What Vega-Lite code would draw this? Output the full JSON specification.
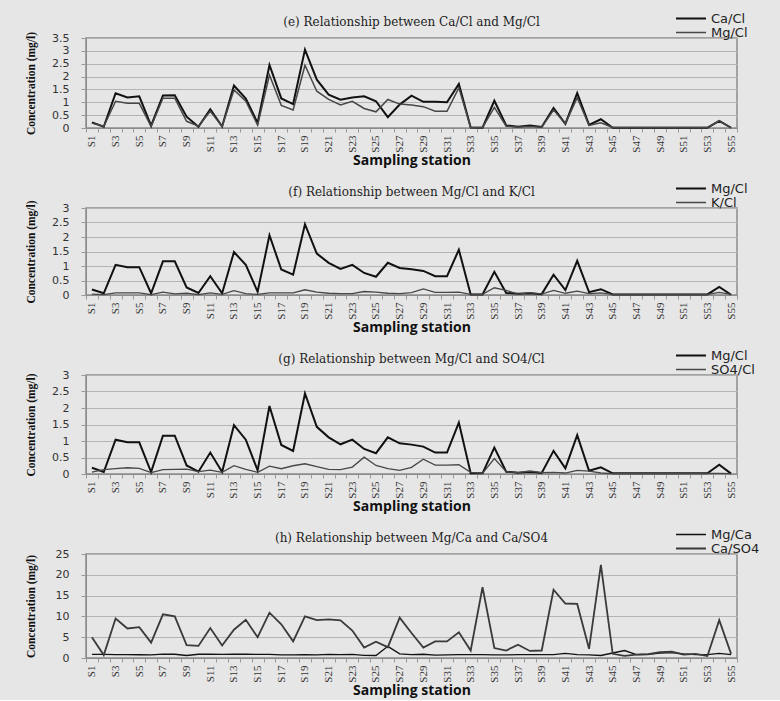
{
  "$schema": "https://vega.github.io/schema/vega-lite/v6.json",
  "background": "#e6e6e6",
  "padding": {"left": 24, "top": 11, "right": 20, "bottom": 2},
  "bounds": "flush",
  "spacing": 80,
  "config": {
    "view": {"stroke": "#8c8c8c", "strokeWidth": 1.5},
    "axis": {"domainColor": "#8c8c8c", "tickColor": "#9a9a9a", "gridColor": "#b4b4b4", "labelColor": "#333333", "titleColor": "#111111"},
    "axisX": {"grid": false, "tickBand": "extent", "tickSize": 4, "labelAngle": 270, "labelFont": "Liberation Sans Narrow", "labelFontSize": 11, "labelPadding": 3, "labelOverlap": false, "titleFont": "Open Sans", "titleFontWeight": "bold", "titleFontSize": 14, "titlePadding": 1},
    "axisY": {"grid": true, "tickSize": 5, "labelFont": "DejaVu Sans", "labelFontSize": 11, "labelPadding": 12, "format": "~g", "minExtent": 40, "maxExtent": 40, "titleFont": "Liberation Sans Narrow", "titleFontWeight": "bold", "titleFontSize": 11.5, "titlePadding": 10},
    "legend": {"orient": "none", "legendX": 589, "legendY": -26, "symbolType": "stroke", "symbolSize": 900, "symbolStrokeWidth": 1.5, "labelFont": "DejaVu Sans", "labelFontSize": 13, "labelColor": "#222222", "rowPadding": 0, "clipHeight": 13, "labelOffset": 4, "padding": 0},
    "title": {"font": "DejaVu Serif", "fontSize": 12, "fontWeight": "normal", "color": "#222222", "anchor": "middle", "frame": "group", "offset": -16.5}
  },
  "data": {"values": [
    {"station": "S1", "Ca/Cl": 0.22, "Mg/Cl": 0.19, "K/Cl": 0.03, "SO4/Cl": 0.06, "Mg/Ca": 0.85, "Ca/SO4": 5.0},
    {"station": "S2", "Ca/Cl": 0.05, "Mg/Cl": 0.06, "K/Cl": 0.01, "SO4/Cl": 0.13, "Mg/Ca": 0.85, "Ca/SO4": 0.7},
    {"station": "S3", "Ca/Cl": 1.35, "Mg/Cl": 1.04, "K/Cl": 0.07, "SO4/Cl": 0.16, "Mg/Ca": 0.8, "Ca/SO4": 9.5},
    {"station": "S4", "Ca/Cl": 1.19, "Mg/Cl": 0.96, "K/Cl": 0.07, "SO4/Cl": 0.19, "Mg/Ca": 0.8, "Ca/SO4": 7.1},
    {"station": "S5", "Ca/Cl": 1.23, "Mg/Cl": 0.96, "K/Cl": 0.07, "SO4/Cl": 0.17, "Mg/Ca": 0.78, "Ca/SO4": 7.4},
    {"station": "S6", "Ca/Cl": 0.09, "Mg/Cl": 0.06, "K/Cl": 0.01, "SO4/Cl": 0.04, "Mg/Ca": 0.75, "Ca/SO4": 3.7},
    {"station": "S7", "Ca/Cl": 1.26, "Mg/Cl": 1.16, "K/Cl": 0.10, "SO4/Cl": 0.13, "Mg/Ca": 0.92, "Ca/SO4": 10.5},
    {"station": "S8", "Ca/Cl": 1.27, "Mg/Cl": 1.16, "K/Cl": 0.04, "SO4/Cl": 0.14, "Mg/Ca": 0.9, "Ca/SO4": 10.0},
    {"station": "S9", "Ca/Cl": 0.44, "Mg/Cl": 0.26, "K/Cl": 0.06, "SO4/Cl": 0.15, "Mg/Ca": 0.6, "Ca/SO4": 3.1},
    {"station": "S10", "Ca/Cl": 0.05, "Mg/Cl": 0.07, "K/Cl": 0.01, "SO4/Cl": 0.07, "Mg/Ca": 0.9, "Ca/SO4": 2.9},
    {"station": "S11", "Ca/Cl": 0.73, "Mg/Cl": 0.65, "K/Cl": 0.07, "SO4/Cl": 0.12, "Mg/Ca": 0.9, "Ca/SO4": 7.2},
    {"station": "S12", "Ca/Cl": 0.06, "Mg/Cl": 0.06, "K/Cl": 0.02, "SO4/Cl": 0.05, "Mg/Ca": 0.85, "Ca/SO4": 3.0},
    {"station": "S13", "Ca/Cl": 1.65, "Mg/Cl": 1.48, "K/Cl": 0.15, "SO4/Cl": 0.25, "Mg/Ca": 0.9, "Ca/SO4": 6.8},
    {"station": "S14", "Ca/Cl": 1.14, "Mg/Cl": 1.04, "K/Cl": 0.05, "SO4/Cl": 0.14, "Mg/Ca": 0.9, "Ca/SO4": 9.2},
    {"station": "S15", "Ca/Cl": 0.20, "Mg/Cl": 0.11, "K/Cl": 0.02, "SO4/Cl": 0.05, "Mg/Ca": 0.85, "Ca/SO4": 5.0},
    {"station": "S16", "Ca/Cl": 2.45, "Mg/Cl": 2.06, "K/Cl": 0.07, "SO4/Cl": 0.24, "Mg/Ca": 0.85, "Ca/SO4": 10.9},
    {"station": "S17", "Ca/Cl": 1.15, "Mg/Cl": 0.88, "K/Cl": 0.07, "SO4/Cl": 0.16, "Mg/Ca": 0.77, "Ca/SO4": 8.1},
    {"station": "S18", "Ca/Cl": 0.93, "Mg/Cl": 0.70, "K/Cl": 0.07, "SO4/Cl": 0.25, "Mg/Ca": 0.75, "Ca/SO4": 4.0},
    {"station": "S19", "Ca/Cl": 3.05, "Mg/Cl": 2.44, "K/Cl": 0.18, "SO4/Cl": 0.31, "Mg/Ca": 0.8, "Ca/SO4": 10.0},
    {"station": "S20", "Ca/Cl": 1.88, "Mg/Cl": 1.43, "K/Cl": 0.10, "SO4/Cl": 0.22, "Mg/Ca": 0.77, "Ca/SO4": 9.1},
    {"station": "S21", "Ca/Cl": 1.30, "Mg/Cl": 1.11, "K/Cl": 0.06, "SO4/Cl": 0.14, "Mg/Ca": 0.85, "Ca/SO4": 9.3},
    {"station": "S22", "Ca/Cl": 1.10, "Mg/Cl": 0.90, "K/Cl": 0.05, "SO4/Cl": 0.13, "Mg/Ca": 0.82, "Ca/SO4": 9.05},
    {"station": "S23", "Ca/Cl": 1.19, "Mg/Cl": 1.04, "K/Cl": 0.05, "SO4/Cl": 0.21, "Mg/Ca": 0.87, "Ca/SO4": 6.6},
    {"station": "S24", "Ca/Cl": 1.23, "Mg/Cl": 0.76, "K/Cl": 0.12, "SO4/Cl": 0.51, "Mg/Ca": 0.62, "Ca/SO4": 2.5},
    {"station": "S25", "Ca/Cl": 1.04, "Mg/Cl": 0.63, "K/Cl": 0.10, "SO4/Cl": 0.26, "Mg/Ca": 0.6, "Ca/SO4": 3.9},
    {"station": "S26", "Ca/Cl": 0.42, "Mg/Cl": 1.11, "K/Cl": 0.06, "SO4/Cl": 0.16, "Mg/Ca": 2.8, "Ca/SO4": 2.6},
    {"station": "S27", "Ca/Cl": 0.91, "Mg/Cl": 0.93, "K/Cl": 0.05, "SO4/Cl": 0.11, "Mg/Ca": 1.0, "Ca/SO4": 9.7},
    {"station": "S28", "Ca/Cl": 1.26, "Mg/Cl": 0.89, "K/Cl": 0.08, "SO4/Cl": 0.20, "Mg/Ca": 0.8, "Ca/SO4": 6.0},
    {"station": "S29", "Ca/Cl": 1.02, "Mg/Cl": 0.83, "K/Cl": 0.21, "SO4/Cl": 0.45, "Mg/Ca": 0.9, "Ca/SO4": 2.5},
    {"station": "S30", "Ca/Cl": 1.02, "Mg/Cl": 0.65, "K/Cl": 0.09, "SO4/Cl": 0.27, "Mg/Ca": 0.7, "Ca/SO4": 4.0},
    {"station": "S31", "Ca/Cl": 1.00, "Mg/Cl": 0.65, "K/Cl": 0.09, "SO4/Cl": 0.27, "Mg/Ca": 0.75, "Ca/SO4": 4.0},
    {"station": "S32", "Ca/Cl": 1.71, "Mg/Cl": 1.56, "K/Cl": 0.10, "SO4/Cl": 0.28, "Mg/Ca": 0.8, "Ca/SO4": 6.2},
    {"station": "S33", "Ca/Cl": 0.02, "Mg/Cl": 0.02, "K/Cl": 0.02, "SO4/Cl": 0.05, "Mg/Ca": 0.8, "Ca/SO4": 1.8},
    {"station": "S34", "Ca/Cl": 0.01, "Mg/Cl": 0.02, "K/Cl": 0.02, "SO4/Cl": 0.02, "Mg/Ca": 0.8, "Ca/SO4": 17.0},
    {"station": "S35", "Ca/Cl": 1.06, "Mg/Cl": 0.80, "K/Cl": 0.25, "SO4/Cl": 0.47, "Mg/Ca": 0.75, "Ca/SO4": 2.4},
    {"station": "S36", "Ca/Cl": 0.10, "Mg/Cl": 0.07, "K/Cl": 0.16, "SO4/Cl": 0.07, "Mg/Ca": 0.75, "Ca/SO4": 1.8},
    {"station": "S37", "Ca/Cl": 0.05, "Mg/Cl": 0.04, "K/Cl": 0.03, "SO4/Cl": 0.04, "Mg/Ca": 0.8, "Ca/SO4": 3.2},
    {"station": "S38", "Ca/Cl": 0.10, "Mg/Cl": 0.06, "K/Cl": 0.08, "SO4/Cl": 0.09, "Mg/Ca": 0.8, "Ca/SO4": 1.7},
    {"station": "S39", "Ca/Cl": 0.04, "Mg/Cl": 0.03, "K/Cl": 0.03, "SO4/Cl": 0.04, "Mg/Ca": 0.8, "Ca/SO4": 1.8},
    {"station": "S40", "Ca/Cl": 0.78, "Mg/Cl": 0.70, "K/Cl": 0.16, "SO4/Cl": 0.05, "Mg/Ca": 0.8, "Ca/SO4": 16.4},
    {"station": "S41", "Ca/Cl": 0.16, "Mg/Cl": 0.17, "K/Cl": 0.06, "SO4/Cl": 0.03, "Mg/Ca": 1.1, "Ca/SO4": 13.1},
    {"station": "S42", "Ca/Cl": 1.36, "Mg/Cl": 1.18, "K/Cl": 0.13, "SO4/Cl": 0.11, "Mg/Ca": 0.8, "Ca/SO4": 13.0},
    {"station": "S43", "Ca/Cl": 0.12, "Mg/Cl": 0.10, "K/Cl": 0.05, "SO4/Cl": 0.09, "Mg/Ca": 0.75, "Ca/SO4": 2.2},
    {"station": "S44", "Ca/Cl": 0.34, "Mg/Cl": 0.20, "K/Cl": 0.07, "SO4/Cl": 0.03, "Mg/Ca": 0.6, "Ca/SO4": 22.4},
    {"station": "S45", "Ca/Cl": 0.01, "Mg/Cl": 0.02, "K/Cl": 0.02, "SO4/Cl": 0.01, "Mg/Ca": 1.2, "Ca/SO4": 1.0},
    {"station": "S46", "Ca/Cl": 0.01, "Mg/Cl": 0.02, "K/Cl": 0.02, "SO4/Cl": 0.01, "Mg/Ca": 1.8, "Ca/SO4": 0.5},
    {"station": "S47", "Ca/Cl": 0.01, "Mg/Cl": 0.02, "K/Cl": 0.02, "SO4/Cl": 0.01, "Mg/Ca": 0.8, "Ca/SO4": 0.8},
    {"station": "S48", "Ca/Cl": 0.01, "Mg/Cl": 0.02, "K/Cl": 0.02, "SO4/Cl": 0.01, "Mg/Ca": 0.9, "Ca/SO4": 0.9},
    {"station": "S49", "Ca/Cl": 0.01, "Mg/Cl": 0.02, "K/Cl": 0.02, "SO4/Cl": 0.01, "Mg/Ca": 1.2, "Ca/SO4": 1.4},
    {"station": "S50", "Ca/Cl": 0.01, "Mg/Cl": 0.02, "K/Cl": 0.02, "SO4/Cl": 0.01, "Mg/Ca": 1.3, "Ca/SO4": 1.5},
    {"station": "S51", "Ca/Cl": 0.01, "Mg/Cl": 0.02, "K/Cl": 0.02, "SO4/Cl": 0.02, "Mg/Ca": 1.0, "Ca/SO4": 0.8},
    {"station": "S52", "Ca/Cl": 0.01, "Mg/Cl": 0.02, "K/Cl": 0.02, "SO4/Cl": 0.02, "Mg/Ca": 0.8, "Ca/SO4": 1.0},
    {"station": "S53", "Ca/Cl": 0.01, "Mg/Cl": 0.02, "K/Cl": 0.02, "SO4/Cl": 0.02, "Mg/Ca": 0.8, "Ca/SO4": 0.5},
    {"station": "S54", "Ca/Cl": 0.28, "Mg/Cl": 0.28, "K/Cl": 0.09, "SO4/Cl": 0.02, "Mg/Ca": 1.1, "Ca/SO4": 9.1},
    {"station": "S55", "Ca/Cl": 0.01, "Mg/Cl": 0.01, "K/Cl": 0.02, "SO4/Cl": 0.01, "Mg/Ca": 0.8, "Ca/SO4": 1.0}
  ]},
  "resolve": {"scale": {"color": "independent", "strokeWidth": "independent", "y": "independent", "x": "independent"}, "legend": {"color": "independent"}},
  "vconcat": [
    {
      "width": 651, "height": 90,
      "title": {"text": "(e) Relationship between Ca/Cl and Mg/Cl"},
      "transform": [{"fold": ["Ca/Cl", "Mg/Cl"], "as": ["series", "value"]}],
      "mark": {"type": "line"},
      "encoding": {
        "x": {"field": "station", "type": "ordinal", "bandPosition": 0.5,
          "sort": ["S1","S2","S3","S4","S5","S6","S7","S8","S9","S10","S11","S12","S13","S14","S15","S16","S17","S18","S19","S20","S21","S22","S23","S24","S25","S26","S27","S28","S29","S30","S31","S32","S33","S34","S35","S36","S37","S38","S39","S40","S41","S42","S43","S44","S45","S46","S47","S48","S49","S50","S51","S52","S53","S54","S55"],
          "scale": {"type": "band", "paddingInner": 0, "paddingOuter": 0},
          "axis": {"title": "Sampling station", "labelExpr": "parseInt(substring(datum.value, 1)) % 2 == 1 ? datum.value : ''"}},
        "y": {"field": "value", "type": "quantitative", "scale": {"domain": [0, 3.5]},
          "axis": {"title": "Concentration (mg/l)", "values": [0, 0.5, 1, 1.5, 2, 2.5, 3, 3.5]}},
        "color": {"field": "series", "type": "nominal", "scale": {"domain": ["Ca/Cl", "Mg/Cl"], "range": ["#111111", "#474747"]}, "legend": {"title": null}},
        "strokeWidth": {"field": "series", "type": "nominal", "scale": {"domain": ["Ca/Cl", "Mg/Cl"], "range": [2, 1.5]}, "legend": null}
      }
    },
    {
      "width": 651, "height": 87,
      "title": {"text": "(f) Relationship between Mg/Cl and K/Cl"},
      "transform": [{"fold": ["Mg/Cl", "K/Cl"], "as": ["series", "value"]}],
      "mark": {"type": "line"},
      "encoding": {
        "x": {"field": "station", "type": "ordinal", "bandPosition": 0.5,
          "sort": ["S1","S2","S3","S4","S5","S6","S7","S8","S9","S10","S11","S12","S13","S14","S15","S16","S17","S18","S19","S20","S21","S22","S23","S24","S25","S26","S27","S28","S29","S30","S31","S32","S33","S34","S35","S36","S37","S38","S39","S40","S41","S42","S43","S44","S45","S46","S47","S48","S49","S50","S51","S52","S53","S54","S55"],
          "scale": {"type": "band", "paddingInner": 0, "paddingOuter": 0},
          "axis": {"title": "Sampling station", "labelExpr": "parseInt(substring(datum.value, 1)) % 2 == 1 ? datum.value : ''"}},
        "y": {"field": "value", "type": "quantitative", "scale": {"domain": [0, 3]},
          "axis": {"title": "Concentration (mg/l)", "values": [0, 0.5, 1, 1.5, 2, 2.5, 3]}},
        "color": {"field": "series", "type": "nominal", "scale": {"domain": ["Mg/Cl", "K/Cl"], "range": ["#111111", "#474747"]}, "legend": {"title": null}},
        "strokeWidth": {"field": "series", "type": "nominal", "scale": {"domain": ["Mg/Cl", "K/Cl"], "range": [2, 1.3]}, "legend": null}
      }
    },
    {
      "width": 651, "height": 99,
      "title": {"text": "(g) Relationship between Mg/Cl and SO4/Cl"},
      "transform": [{"fold": ["Mg/Cl", "SO4/Cl"], "as": ["series", "value"]}],
      "mark": {"type": "line"},
      "encoding": {
        "x": {"field": "station", "type": "ordinal", "bandPosition": 0.5,
          "sort": ["S1","S2","S3","S4","S5","S6","S7","S8","S9","S10","S11","S12","S13","S14","S15","S16","S17","S18","S19","S20","S21","S22","S23","S24","S25","S26","S27","S28","S29","S30","S31","S32","S33","S34","S35","S36","S37","S38","S39","S40","S41","S42","S43","S44","S45","S46","S47","S48","S49","S50","S51","S52","S53","S54","S55"],
          "scale": {"type": "band", "paddingInner": 0, "paddingOuter": 0},
          "axis": {"title": "Sampling station", "labelExpr": "parseInt(substring(datum.value, 1)) % 2 == 1 ? datum.value : ''"}},
        "y": {"field": "value", "type": "quantitative", "scale": {"domain": [0, 3]},
          "axis": {"title": "Concentration (mg/l)", "values": [0, 0.5, 1, 1.5, 2, 2.5, 3]}},
        "color": {"field": "series", "type": "nominal", "scale": {"domain": ["Mg/Cl", "SO4/Cl"], "range": ["#111111", "#474747"]}, "legend": {"title": null}},
        "strokeWidth": {"field": "series", "type": "nominal", "scale": {"domain": ["Mg/Cl", "SO4/Cl"], "range": [2, 1.3]}, "legend": null}
      }
    },
    {
      "width": 651, "height": 104,
      "title": {"text": "(h) Relationship between Mg/Ca and Ca/SO4"},
      "transform": [{"fold": ["Mg/Ca", "Ca/SO4"], "as": ["series", "value"]}],
      "mark": {"type": "line"},
      "encoding": {
        "x": {"field": "station", "type": "ordinal", "bandPosition": 0.5,
          "sort": ["S1","S2","S3","S4","S5","S6","S7","S8","S9","S10","S11","S12","S13","S14","S15","S16","S17","S18","S19","S20","S21","S22","S23","S24","S25","S26","S27","S28","S29","S30","S31","S32","S33","S34","S35","S36","S37","S38","S39","S40","S41","S42","S43","S44","S45","S46","S47","S48","S49","S50","S51","S52","S53","S54","S55"],
          "scale": {"type": "band", "paddingInner": 0, "paddingOuter": 0},
          "axis": {"title": "Sampling station", "labelExpr": "parseInt(substring(datum.value, 1)) % 2 == 1 ? datum.value : ''"}},
        "y": {"field": "value", "type": "quantitative", "scale": {"domain": [0, 25]},
          "axis": {"title": "Concentration (mg/l)", "values": [0, 5, 10, 15, 20, 25]}},
        "color": {"field": "series", "type": "nominal", "scale": {"domain": ["Mg/Ca", "Ca/SO4"], "range": ["#111111", "#3a3a3a"]}, "legend": {"title": null}},
        "strokeWidth": {"field": "series", "type": "nominal", "scale": {"domain": ["Mg/Ca", "Ca/SO4"], "range": [1.3, 1.8]}, "legend": null}
      }
    }
  ]
}
